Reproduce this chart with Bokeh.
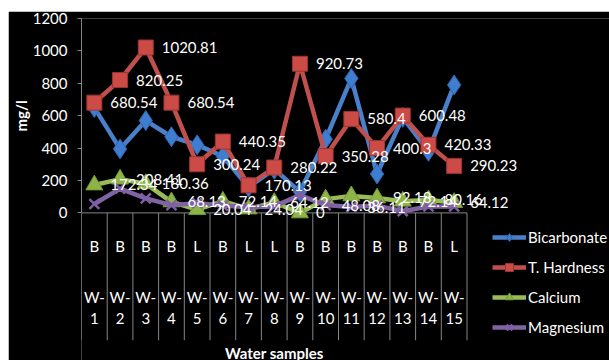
import numpy as np
from bokeh.plotting import figure
from bokeh.models import (ColumnDataSource, FixedTicker, Legend, LegendItem,
                          Spacer, Range1d, Title)
from bokeh.layouts import column, row
from bokeh.core.properties import value
from bokeh.embed import file_html
from bokeh.resources import INLINE

# ---- data -------------------------------------------------------------
wells = ["W-1", "W-2", "W-3", "W-4", "W-5", "W-6", "W-7", "W-8",
         "W-9", "W-10", "W-11", "W-12", "W-13", "W-14", "W-15"]
source_type = ["B", "B", "B", "B", "L", "B", "L", "L",
               "B", "B", "B", "B", "B", "B", "L"]

bicarbonate = [650, 395, 570, 470, 420, 350, 160, 270, 130, 455, 830, 240, 590, 380, 790]
hardness = [680.54, 820.25, 1020.81, 680.54, 300.24, 440.35, 170.13, 280.22,
            920.73, 350.28, 580.4, 400.3, 600.48, 420.33, 290.23]
calcium = [172.34, 208.41, 180.36, 68.13, 20.04, 72.14, 24.04, 64.12,
           0, 85, 105, 92.18, 72.14, 80.16, 64.12]
magnesium = [55, 150, 90, 48, 60, 45, 35, 40, 110, 48.08, 36.11, 45, 10, 40, 40]

# wells whose magnesium value is printed instead of the calcium value
mg_labelled = ["W-10", "W-11"]

y_ticks = [0, 200, 400, 600, 800, 1000, 1200]

# ---- styling ----------------------------------------------------------
FONT = "Lato"
BLUE, RED, GREEN, PURPLE = "#4A7FC9", "#C0504D", "#9BBB59", "#8064A2"
AXIS_GREY = "#868686"

n = len(wells)
x = np.arange(1, n + 1)

W, H = 601, 349
LEFT, TOP = 73, 7
PX_PER_CAT = 25.7            # horizontal size of one sample slot
PX_PER_UNIT = 194.4 / 1200   # vertical scale, pixels per mg/l
cat_floor = -786             # lower end of the category label block

frame_w = W - LEFT
frame_h = H - TOP
x_end = 0.5 + frame_w / PX_PER_CAT
y_start = 1200 - frame_h / PX_PER_UNIT

p = figure(width=W, height=H,
           x_range=Range1d(0.5, x_end),
           y_range=Range1d(y_start, 1200),
           output_backend="svg", toolbar_location=None,
           background_fill_color="black", border_fill_color="black",
           outline_line_color=None,
           min_border_left=LEFT, min_border_right=0,
           min_border_top=TOP, min_border_bottom=0)

p.xaxis.visible = False
p.grid.visible = False

yax = p.yaxis[0]
yax.ticker = FixedTicker(ticks=y_ticks)
yax.bounds = (0, 1200)
yax.axis_line_color = AXIS_GREY
yax.major_tick_line_color = AXIS_GREY
yax.major_tick_out = 4
yax.major_tick_in = 0
yax.minor_tick_line_color = None
yax.major_label_text_color = "white"
yax.major_label_text_font = FONT
yax.major_label_text_font_size = "15px"
yax.major_label_standoff = 10

# vertical axis title, lifted so it sits beside the 0-1200 scale
p.add_layout(Title(text="mg/l", align="left", offset=229,
                   text_color="white", text_font=FONT, text_font_size="15px",
                   text_font_style="bold", standoff=0), "left")

# category axis: baseline and dividers between samples
edges = np.arange(0.5, n + 1)
p.segment(x0=[edges[0]], y0=[0], x1=[edges[-1]], y1=[0],
          line_color=AXIS_GREY, line_width=1)
p.segment(x0=edges, y0=np.zeros_like(edges), x1=edges,
          y1=np.full_like(edges, cat_floor), line_color=AXIS_GREY, line_width=1)

p.text(x=x, y=np.full(n, -206), text=source_type,
       text_color="white", text_font=value(FONT), text_font_size="15px",
       text_align="center", text_baseline="middle")
p.text(x=x, y=np.full(n, -585), text=[w.replace("-", "-\n") for w in wells],
       text_color="white", text_font=value(FONT), text_font_size="15px",
       text_align="center", text_baseline="middle", text_line_height=1.15)
p.text(x=[(n + 1) / 2], y=[-862], text=["Water samples"],
       text_color="white", text_font=value(FONT), text_font_size="15px",
       text_font_style="bold", text_align="center", text_baseline="middle")

# ---- series ------------------------------------------------------------
lw = 4.5
b_line = p.line(x, bicarbonate, line_color=BLUE, line_width=lw)
b_pts = p.scatter(x, bicarbonate, marker="diamond", size=20,
                  fill_color="#3F7DD0", line_color="#2E63A8", line_width=1)

h_line = p.line(x, hardness, line_color=RED, line_width=lw)
h_pts = p.scatter(x, hardness, marker="square", size=15,
                  fill_color="#CC4B47", line_color="#9E3431", line_width=1)

c_line = p.line(x, calcium, line_color=GREEN, line_width=lw)
c_pts = p.scatter(x, calcium, marker="triangle", size=17,
                  fill_color="#8DB545", line_color="#76993A", line_width=1)

m_line = p.line(x, magnesium, line_color=PURPLE, line_width=lw)
m_pts = p.scatter(x, magnesium, marker="x", size=14,
                  line_color="#7E5FA6", line_width=2.5)

# ---- data labels -------------------------------------------------------
lab_x, lab_y, lab_t = [], [], []
for i, w in enumerate(wells):
    lab_x.append(x[i]); lab_y.append(hardness[i]); lab_t.append(f"{hardness[i]:g}")
    v = magnesium[i] if w in mg_labelled else calcium[i]
    lab_x.append(x[i]); lab_y.append(v); lab_t.append(f"{v:g}")

labels = ColumnDataSource(dict(x=lab_x, y=lab_y, t=lab_t))
p.text(x="x", y="y", text="t", source=labels, x_offset=16,
       text_color="white", text_font=value(FONT), text_font_size="15px",
       text_align="left", text_baseline="middle")

# ---- legend ------------------------------------------------------------
legend = Legend(items=[
    LegendItem(label="Bicarbonate", renderers=[b_line, b_pts]),
    LegendItem(label="T. Hardness", renderers=[h_line, h_pts]),
    LegendItem(label="Calcium", renderers=[c_line, c_pts]),
    LegendItem(label="Magnesium", renderers=[m_line, m_pts]),
], location=(411, 23), background_fill_color="black", background_fill_alpha=1,
    border_line_color=None, label_text_color="white", label_text_font=FONT,
    label_text_font_size="15px", glyph_width=34, glyph_height=20,
    label_height=20, spacing=10, padding=0, margin=0, label_standoff=2)
p.add_layout(legend)

layout = column(Spacer(width=609, height=11),
                row(Spacer(width=8, height=H), p))

open("out.html", "w").write(file_html(layout, INLINE))
